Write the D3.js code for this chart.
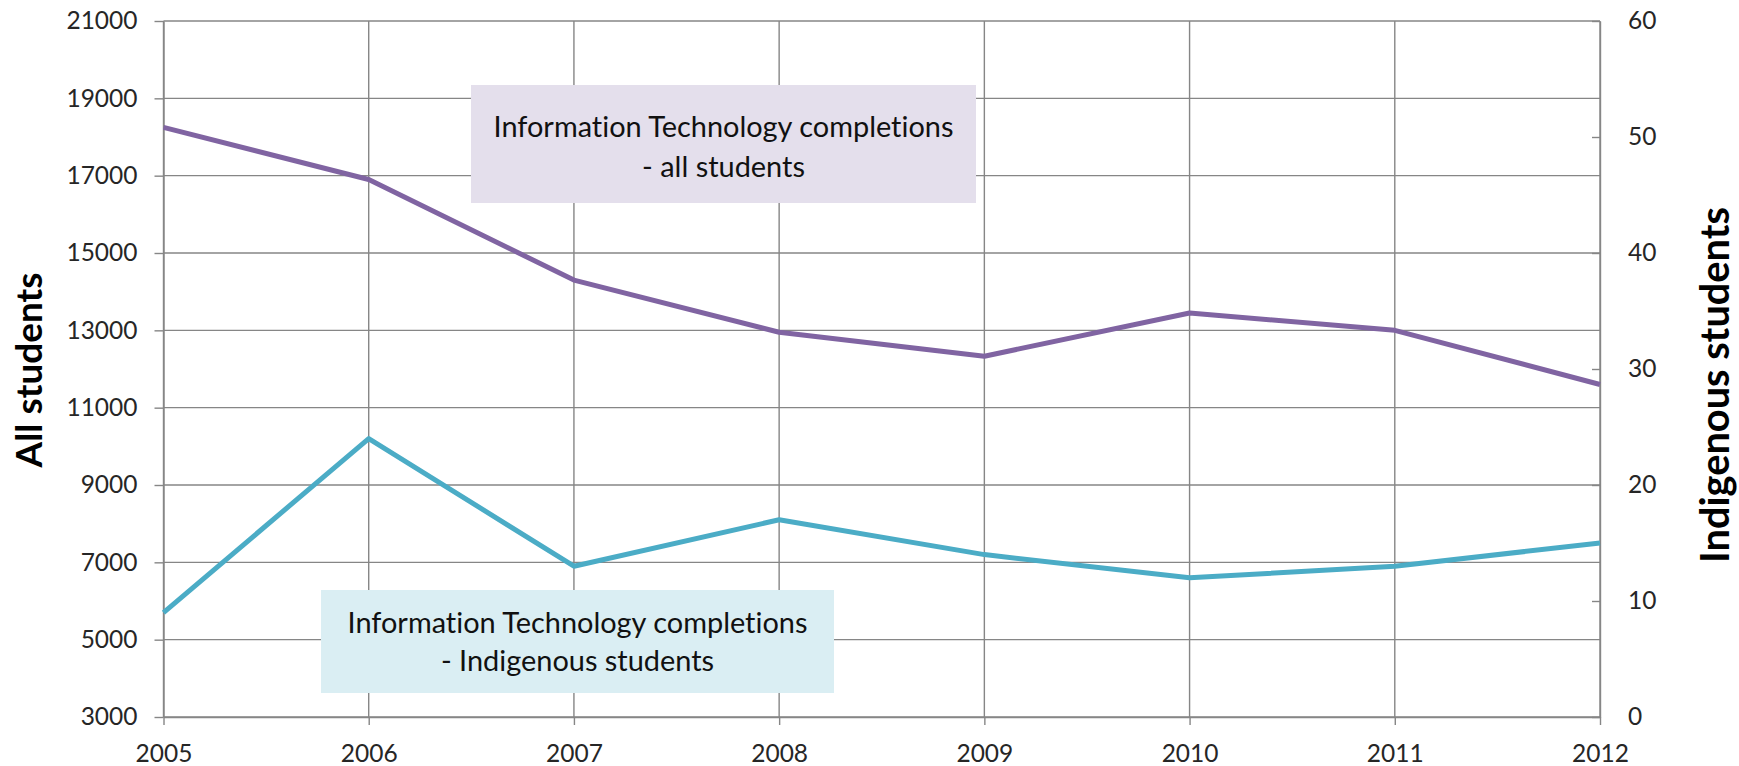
<!DOCTYPE html>
<html>
<head>
<meta charset="utf-8">
<script src="https://cdn.jsdelivr.net/npm/d3@7/dist/d3.min.js"></script>
<style>
  html, body { margin: 0; padding: 0; background: #fff; }
  svg { display: block; font-family: Lato, "Open Sans", sans-serif; font-variant-ligatures: none; font-feature-settings: "liga" 0, "clig" 0; }
</style>
</head>
<body>
<svg id="chart" width="1739" height="766"></svg>
<script>
// ---- data ----
const years = [2005, 2006, 2007, 2008, 2009, 2010, 2011, 2012];
const allStudents = [18250, 16900, 14300, 12950, 12330, 13450, 13000, 11600];
const indigenousStudents = [9, 24, 13, 17, 14, 12, 13, 15];
const leftTicks = [3000, 5000, 7000, 9000, 11000, 13000, 15000, 17000, 19000, 21000];
const rightTicks = [0, 10, 20, 30, 40, 50, 60];
const leftTitle = "All students";
const rightTitle = "Indigenous students";
const noteAll = ["Information Technology completions", "- all students"];
const noteIndig = ["Information Technology completions", "- Indigenous students"];

// ---- layout ----
const L = 163.5, R = 1600, T = 21, B = 717;
const gridColor = "#868686";
const textColor = "#262626";

const svg = d3.select("#chart");
const x = d3.scaleLinear().domain([2005, 2012]).range([L, R]);
const yL = d3.scaleLinear().domain([3000, 21000]).range([B, T]);
const yR = d3.scaleLinear().domain([0, 60]).range([B, T]);

// gridlines
const grid = svg.append("g");
grid.selectAll("line.h").data(leftTicks).join("line")
  .attr("x1", L).attr("x2", R)
  .attr("y1", d => yL(d)).attr("y2", d => yL(d))
  .attr("stroke", gridColor).attr("stroke-width", 1.4);
grid.selectAll("line.v").data(years).join("line")
  .attr("x1", d => x(d)).attr("x2", d => x(d))
  .attr("y1", T).attr("y2", B)
  .attr("stroke", gridColor).attr("stroke-width", 1.4);

// axes
function styleAxis(g) {
  g.selectAll("path.domain").attr("stroke", gridColor).attr("stroke-width", 1.4);
  g.selectAll(".tick line").attr("stroke", gridColor).attr("stroke-width", 1.4);
  g.selectAll(".tick text").attr("fill", textColor)
    .style("font-size", "24.5px").style("font-family", "Lato, sans-serif");
}
svg.append("g").attr("transform", `translate(${L},0)`)
  .call(d3.axisLeft(yL).tickValues(leftTicks).tickFormat(d3.format("d"))
    .tickSize(9).tickSizeOuter(0).tickPadding(17))
  .call(styleAxis);
svg.append("g").attr("transform", `translate(${R},0)`)
  .call(d3.axisRight(yR).tickValues(rightTicks).tickFormat(d3.format("d"))
    .tickSizeInner(-8).tickSizeOuter(0).tickPadding(28))
  .call(styleAxis);
svg.append("g").attr("transform", `translate(0,${B})`)
  .call(d3.axisBottom(x).tickValues(years).tickFormat(d3.format("d"))
    .tickSize(8).tickSizeOuter(0).tickPadding(20))
  .call(styleAxis);

// annotation boxes
function note(lines, box, fill, baselines) {
  const g = svg.append("g");
  g.append("rect").attr("x", box[0]).attr("y", box[1])
    .attr("width", box[2] - box[0]).attr("height", box[3] - box[1])
    .attr("fill", fill);
  const cx = (box[0] + box[2]) / 2;
  const texts = g.selectAll("text").data(lines).join("text")
    .attr("x", cx).attr("y", (d, i) => baselines[i])
    .attr("text-anchor", "middle").attr("fill", "#111")
    .style("font-size", "27px").text(d => d);
  const w = texts.node().getComputedTextLength();
  const fs = 27 * 460 / w;
  texts.style("font-size", fs + "px");
}
note(noteAll, [471, 85, 976, 203], "#E4DFEC", [137, 177]);
note(noteIndig, [321, 590, 834, 693], "#DAEEF3", [633, 671]);

// lines
const lineAll = d3.line().x((d, i) => x(years[i])).y(d => yL(d));
const lineInd = d3.line().x((d, i) => x(years[i])).y(d => yR(d));
svg.append("path").datum(allStudents).attr("d", lineAll)
  .attr("fill", "none").attr("stroke", "#8064A2").attr("stroke-width", 5)
  .attr("stroke-linejoin", "round");
svg.append("path").datum(indigenousStudents).attr("d", lineInd)
  .attr("fill", "none").attr("stroke", "#4BACC6").attr("stroke-width", 5)
  .attr("stroke-linejoin", "round");

// axis titles
function title(txt, tx, ty, target) {
  const t = svg.append("text")
    .attr("transform", `translate(${tx},${ty}) rotate(-90)`)
    .attr("text-anchor", "middle").attr("fill", "#000")
    .style("font-weight", "bold").style("font-size", "32px").text(txt);
  const w = t.node().getComputedTextLength();
  t.style("font-size", (32 * target / w) + "px");
}
title(leftTitle, 42, 370, 195);
title(rightTitle, 1729, 385, 356);
</script>
</body>
</html>
